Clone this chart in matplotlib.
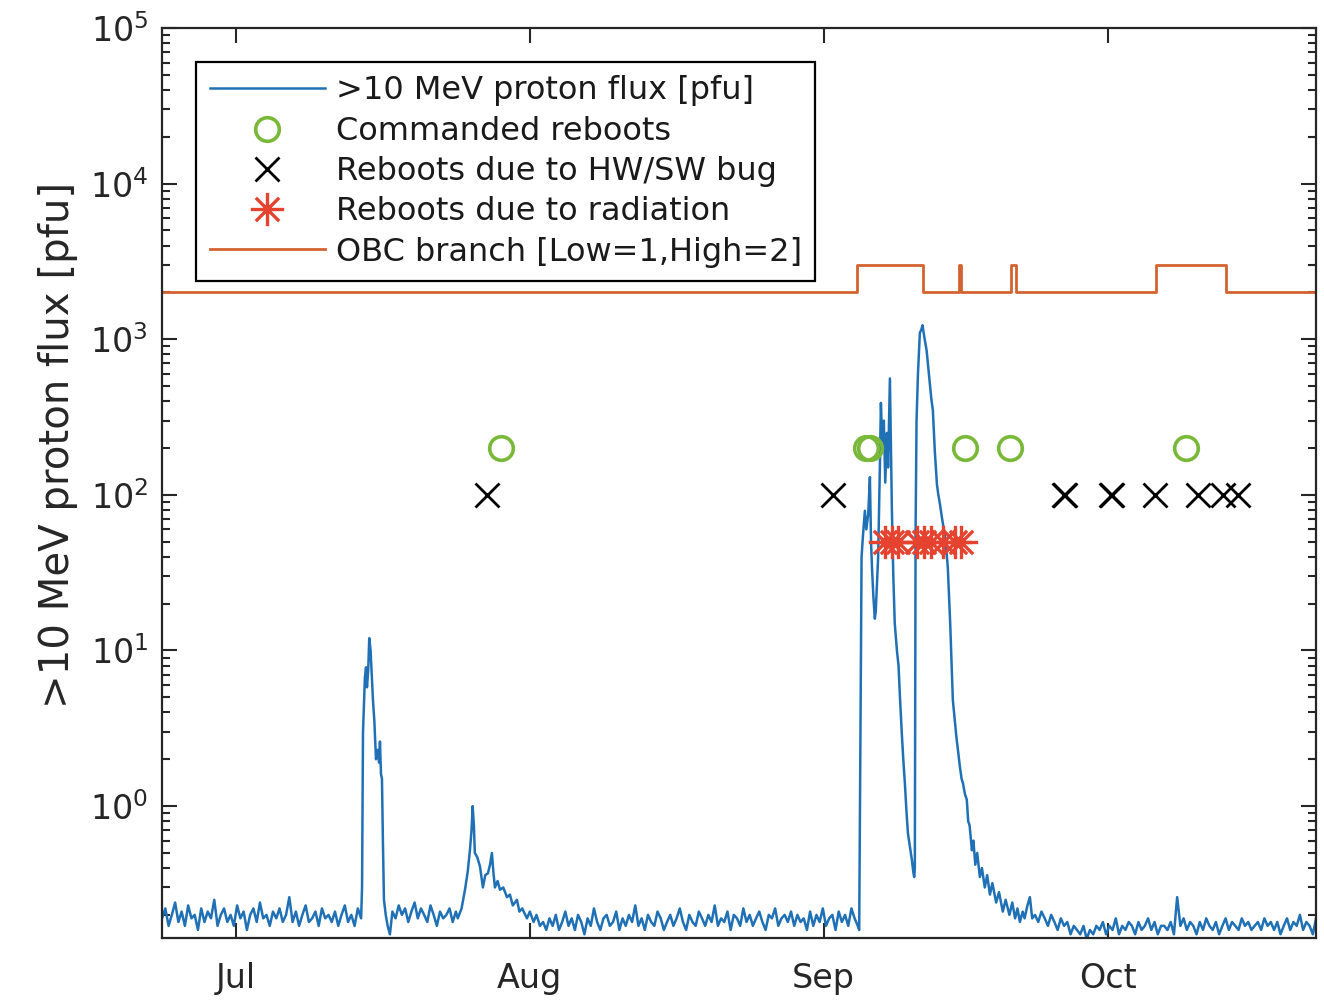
import numpy as np
import matplotlib
matplotlib.use("Agg")
from matplotlib import pyplot as plt
import matplotlib.dates as mdates
from matplotlib.path import Path
from matplotlib.ticker import LogLocator, NullFormatter
from datetime import datetime, timedelta

plt.rcParams['font.family'] = ['DejaVu Sans']

# Reference date: day 0 = 1 July 2017
t0 = datetime(2017, 7, 1)

# Quiet background, 23 Jun - 14 Jul (values typed, spread evenly between the two days)
bg1_span = (-7.8, 13.2)
bg1 = [0.19, 0.22, 0.17, 0.2, 0.24, 0.18, 0.21, 0.17, 0.23, 0.19, 0.2, 0.16, 0.22, 0.18,
       0.21, 0.19, 0.25, 0.17, 0.2, 0.22, 0.18, 0.2, 0.17, 0.23, 0.19, 0.21, 0.16, 0.2,
       0.22, 0.18, 0.24, 0.19, 0.2, 0.17, 0.21, 0.19, 0.22, 0.18, 0.2, 0.26, 0.18, 0.21,
       0.17, 0.2, 0.23, 0.18, 0.19, 0.21, 0.17, 0.22, 0.19, 0.2, 0.18, 0.21, 0.17, 0.2,
       0.23, 0.18, 0.2, 0.17, 0.22, 0.19]

# Event 1, mid July
ev1_day = [13.3, 13.4, 13.6, 13.72, 13.82, 13.95, 14.06, 14.2, 14.35, 14.45, 14.6, 14.77,
           14.95, 15.1, 15.19, 15.3, 15.4, 15.5, 15.61, 15.8, 16.0, 16.24]
ev1_val = [0.3, 3.0, 6.7, 7.8, 5.8, 7.5, 12.0, 10.0, 6.5, 4.8, 3.5, 2.0,
           2.3, 1.9, 2.6, 1.6, 1.5, 0.6, 0.25, 0.2, 0.17, 0.15]

bg2_span = (16.5, 23.2)
bg2 = [0.21, 0.19, 0.23, 0.2, 0.22, 0.18, 0.21, 0.24, 0.19, 0.22, 0.2, 0.18, 0.23, 0.2,
       0.17, 0.21, 0.19, 0.2, 0.22, 0.18, 0.21]

# Event 2, end of July
ev2_day = [23.4, 23.8, 24.16, 24.45, 24.68, 24.85, 24.97, 25.1, 25.2, 25.45, 25.74, 26.05,
           26.3, 26.58, 26.8, 27.0, 27.15, 27.32, 27.6, 27.85, 28.2, 28.59, 28.9, 29.2,
           29.64, 29.9, 30.2, 30.7, 31.0, 31.4, 31.7, 32.07]
ev2_val = [0.19, 0.22, 0.29, 0.38, 0.52, 0.7, 1.0, 0.75, 0.5, 0.47, 0.41, 0.3,
           0.36, 0.37, 0.42, 0.5, 0.38, 0.3, 0.33, 0.29, 0.3, 0.26, 0.27, 0.23,
           0.25, 0.21, 0.22, 0.19, 0.21, 0.18, 0.2, 0.17]

bg3_span = (32.4, 65.6)
bg3 = [0.18, 0.16, 0.19, 0.17, 0.2, 0.16, 0.18, 0.21, 0.17, 0.19, 0.16, 0.2, 0.18, 0.15,
       0.19, 0.17, 0.22, 0.18, 0.16, 0.19, 0.2, 0.17, 0.18, 0.21, 0.16, 0.19, 0.17, 0.2,
       0.18, 0.23, 0.17, 0.19, 0.16, 0.2, 0.18, 0.17, 0.21, 0.19, 0.16, 0.18, 0.2, 0.17,
       0.19, 0.22, 0.18, 0.16, 0.2, 0.18, 0.17, 0.21, 0.19, 0.17, 0.2, 0.18, 0.23, 0.17,
       0.19, 0.18, 0.21, 0.16, 0.2, 0.19, 0.17, 0.22, 0.18, 0.2, 0.17, 0.19, 0.21, 0.18,
       0.16, 0.2, 0.19, 0.22, 0.17, 0.19, 0.2, 0.18, 0.21, 0.17, 0.2, 0.18, 0.19, 0.16,
       0.21, 0.17, 0.2, 0.18, 0.22, 0.17, 0.19, 0.2, 0.16, 0.21, 0.18, 0.2, 0.17, 0.22,
       0.19, 0.17]

# Event 3, September storms
ev3_day = [65.75, 65.9, 66.0, 66.15, 66.35, 66.5, 66.7, 66.88, 67.0, 67.1, 67.25, 67.4,
           67.5, 67.6, 67.75, 67.93, 68.04, 68.2, 68.35, 68.5, 68.67, 68.8, 68.99, 69.1,
           69.2, 69.35, 69.5, 69.73, 69.9, 70.05, 70.25, 70.4, 70.57, 70.75, 70.89, 71.1,
           71.31, 71.45, 71.55, 71.62, 71.7, 71.8, 71.95, 72.15, 72.3, 72.43, 72.6, 72.86,
           73.05, 73.2, 73.35, 73.52, 73.73, 73.95, 74.1, 74.26, 74.5, 74.79, 74.95, 75.1,
           75.35, 75.63, 76.0, 76.37, 76.55, 76.7, 76.9, 77.1, 77.25, 77.4, 77.64, 77.8,
           78.0, 78.2, 78.48, 78.7, 79.0, 79.25, 79.54, 79.8, 80.2, 80.5, 80.9, 81.2,
           81.6, 81.9, 82.2, 82.45, 82.7, 83.0, 83.2, 83.5, 83.76, 84.0]
ev3_val = [0.16, 5.0, 40, 55, 79, 60, 75, 130, 50, 34, 22, 16,
           18, 25, 40, 150, 390, 200, 300, 120, 250, 150, 560, 200,
           80, 30, 15, 10, 8, 5, 2.9, 2.0, 1.4, 0.9, 0.67, 0.55,
           0.45, 0.38, 0.35, 0.4, 60, 300, 600, 1100, 1150, 1230, 1050, 850,
           650, 520, 420, 350, 190, 117, 100, 88, 70, 55, 44, 34,
           15, 4.8, 2.8, 1.8, 1.5, 1.4, 1.2, 1.1, 0.8, 0.75, 0.52, 0.6,
           0.42, 0.5, 0.35, 0.4, 0.3, 0.36, 0.27, 0.32, 0.24, 0.28, 0.21, 0.25,
           0.2, 0.24, 0.19, 0.22, 0.18, 0.21, 0.19, 0.23, 0.26, 0.19]

bg4_span = (84.3, 113.95)
bg4 = [0.2, 0.18, 0.21, 0.19, 0.17, 0.2, 0.18, 0.16, 0.19, 0.17, 0.18, 0.15, 0.17, 0.16,
       0.15, 0.17, 0.14, 0.16, 0.15, 0.17, 0.16, 0.18, 0.15, 0.17, 0.16, 0.19, 0.15, 0.17,
       0.16, 0.18, 0.17, 0.15, 0.18, 0.16, 0.17, 0.19, 0.16, 0.18, 0.15, 0.17, 0.17, 0.16,
       0.18, 0.15, 0.26, 0.17, 0.19, 0.16, 0.18, 0.17, 0.15, 0.18, 0.16, 0.19, 0.17, 0.16,
       0.18, 0.15, 0.17, 0.19, 0.16, 0.18, 0.17, 0.16, 0.19, 0.17, 0.18, 0.16, 0.17, 0.18,
       0.16, 0.19, 0.17, 0.18, 0.16, 0.18, 0.15, 0.17, 0.19, 0.16, 0.18, 0.17, 0.2, 0.16,
       0.18, 0.17, 0.15, 0.19]

# OBC branch (1 = Low, 2 = High), change days
obc_day = [-7.8, 65.5, 72.44, 76.28, 76.5, 81.8, 82.33, 97.05, 104.43, 113.95]
obc_val = [1, 2, 1, 2, 1, 2, 1, 2, 1, 1]

# Reboot events (days since 1 Jul)
cmd_day = [27.95, 66.46, 66.88, 76.9, 81.65, 100.28]
hw_day = [26.48, 62.97, 87.4, 87.5, 92.32, 92.42, 96.94, 101.5, 104.15, 105.73]
rad_day = [68.46, 69.2, 69.83, 71.84, 72.57, 73.31, 74.58, 75.84, 76.48]


def to_dates(days):
    return [t0 + timedelta(days=float(d)) for d in days]


flux_day = np.concatenate([
    np.linspace(*bg1_span, len(bg1)), ev1_day,
    np.linspace(*bg2_span, len(bg2)), ev2_day,
    np.linspace(*bg3_span, len(bg3)), ev3_day,
    np.linspace(*bg4_span, len(bg4)),
])
flux_val = np.concatenate([bg1, ev1_val, bg2, ev2_val, bg3, ev3_val, bg4])

# asterisk marker like MATLAB '*'
ast = Path([(-1, 0), (1, 0), (0, -1), (0, 1), (-0.7, -0.7), (0.7, 0.7), (-0.7, 0.7), (0.7, -0.7)],
           [Path.MOVETO, Path.LINETO] * 4)

fig = plt.figure(figsize=(13.24, 10.07), dpi=100)
ax = fig.add_axes([0.1224, 0.0685, 0.8716, 0.9037])

ax.plot(to_dates(flux_day), flux_val, color='#1f70b5', lw=1.8,
        label='>10 MeV proton flux [pfu]')
ax.plot(to_dates(cmd_day), [200] * len(cmd_day), 'o', ms=17, mfc='none', mec='#7ab83a',
        mew=2.6, label='Commanded reboots')
ax.plot(to_dates(hw_day), [100] * len(hw_day), 'x', ms=17, color='black', mew=2,
        label='Reboots due to HW/SW bug', ls='none')
ax.plot(to_dates(rad_day), [50] * len(rad_day), ls='none', marker=ast, ms=24,
        mfc='none', mec='#e5432f', mew=2.4, label='Reboots due to radiation')
ax.plot(to_dates(obc_day), [1000 * (b + 1) for b in obc_val], color='#d4622f', lw=2,
        drawstyle='steps-post', label='OBC branch [Low=1,High=2]')

ax.set_yscale('log')
ax.set_ylim(0.142, 1e5)
ax.set_xlim(t0 + timedelta(days=-7.8), t0 + timedelta(days=113.95))

ax.xaxis.set_major_locator(mdates.MonthLocator())
ax.xaxis.set_major_formatter(mdates.DateFormatter('%b'))
ax.yaxis.set_major_locator(LogLocator(base=10, numticks=10))
ax.yaxis.set_minor_locator(LogLocator(base=10, subs=np.arange(2, 10), numticks=20))
ax.yaxis.set_minor_formatter(NullFormatter())

ax.tick_params(which='both', direction='in', top=True, right=True, width=1.5, color='#262626')
ax.tick_params(which='major', length=11, labelsize=24, labelcolor='#262626')
ax.tick_params(which='minor', length=6)
ax.tick_params(axis='y', pad=10)
ax.tick_params(axis='x', pad=17)
for s in ax.spines.values():
    s.set_linewidth(1.6)
    s.set_color('#262626')

ax.set_ylabel('>10 MeV proton flux [pfu]', fontsize=29, color='#262626')
ax.yaxis.set_label_coords(-0.073, 0.542)

leg = ax.legend(loc='upper left', bbox_to_anchor=(0.0295, 0.9626), borderaxespad=0,
                fontsize=23, handlelength=3.6, handletextpad=0.35, labelspacing=0.29,
                borderpad=0.42, fancybox=False, framealpha=1, edgecolor='black')
leg.get_frame().set_linewidth(1.6)
for t in leg.get_texts():
    t.set_color('#1a1a1a')

fig.savefig('out.png', dpi=100)
